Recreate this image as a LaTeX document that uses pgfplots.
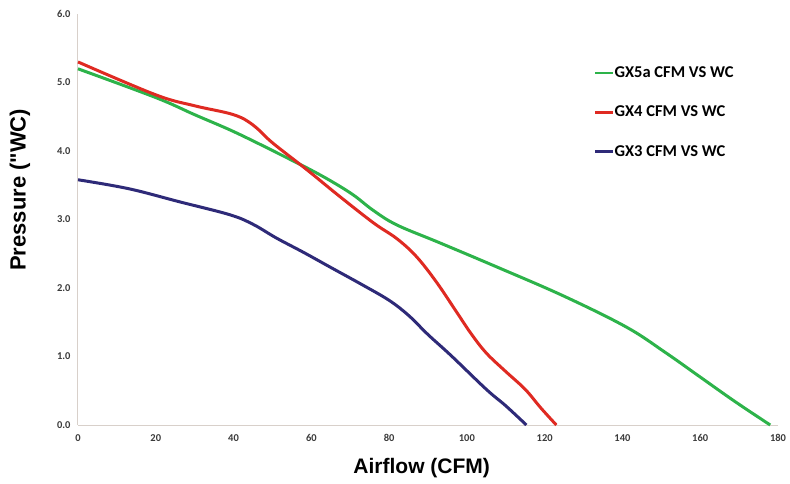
\documentclass[border=0pt]{standalone}
\usepackage{fontspec}
\setmainfont{Liberation Sans}
\newfontfamily\carlito{Carlito}
\usepackage{pgfplots}
\pgfplotsset{compat=1.18}
\definecolor{cgreen}{HTML}{2DB34A}
\definecolor{cred}{HTML}{DF2A22}
\definecolor{cblue}{HTML}{2E2A78}
\definecolor{axgray}{HTML}{D8D0CA}
\definecolor{tickgray}{HTML}{3A3A3A}
\begin{document}
\begin{tikzpicture}
\begin{axis}[
  scale only axis,
  width=700pt, height=411pt,
  xmin=0, xmax=180, ymin=0, ymax=6,
  axis x line*=bottom, axis y line*=left,
  axis line style={-, draw=axgray, line width=1pt},
  xtick={0,20,...,180},
  ytick={0,1,...,6},
  major tick length=0pt,
  /pgf/number format/assume math mode=true,
  yticklabel style={/pgf/number format/fixed, /pgf/number format/fixed zerofill, /pgf/number format/precision=1, xshift=-4pt},
  ticklabel style={font=\carlito\bfseries\fontsize{10.5}{12}\selectfont, text=tickgray},
  xticklabel style={yshift=-6pt},
  xlabel={\bfseries\fontsize{21}{24}\selectfont Airflow (CFM)},
  ylabel={\bfseries\fontsize{22}{26}\selectfont Pressure (\textquotedbl WC)},
  xlabel style={at={(axis description cs:0.491,-0.105)}, anchor=center},
  ylabel style={at={(axis description cs:-0.083,0.572)}, anchor=center, rotate=0},
  legend style={at={(axis description cs:0.737,0.872)}, anchor=north west, draw=none, fill=none,
    font=\carlito\bfseries\fontsize{16.5}{19}\selectfont, row sep=27pt, inner sep=0pt,
    nodes={inner xsep=0pt, inner ysep=0pt}},
  legend cell align=left,
  legend image code/.code={\draw[#1, line width=2.5pt] (0pt,0pt) -- (18pt,0pt);},
  every axis plot/.append style={line width=3pt, smooth, tension=0.6},
  clip=false,
]
\coordinate (o) at (rel axis cs:0,0);
\addplot[cgreen] coordinates {(0,5.2)(20,4.78)(30,4.53)(39,4.31)(46,4.12)(52,3.95)(60,3.72)(66,3.53)(71,3.35)(76,3.13)(82,2.92)(93,2.66)(108,2.3)(125,1.88)(141,1.43)(151,1.06)(160,0.70)(169,0.34)(178,0)};
\addlegendentry{GX5a CFM VS WC}
\addplot[cred] coordinates {(0,5.3)(20,4.82)(30,4.66)(40,4.53)(45,4.38)(50,4.12)(59,3.72)(67,3.35)(76,2.95)(82,2.72)(87,2.46)(92,2.1)(97,1.68)(101,1.34)(105,1.05)(110,0.78)(115,0.52)(119,0.25)(123,0)};
\addlegendentry{GX4 CFM VS WC}
\addplot[cblue] coordinates {(0,3.58)(13,3.45)(26,3.26)(39,3.07)(45,2.93)(51,2.73)(58,2.52)(65,2.30)(73,2.05)(80,1.82)(85,1.6)(90,1.32)(96,1.01)(105,0.52)(110,0.28)(115.3,0)};
\addlegendentry{GX3 CFM VS WC}
\end{axis}
\path[use as bounding box] (o) ++(-78pt,-58pt) rectangle ++(790pt,483pt);
\end{tikzpicture}
\end{document}
